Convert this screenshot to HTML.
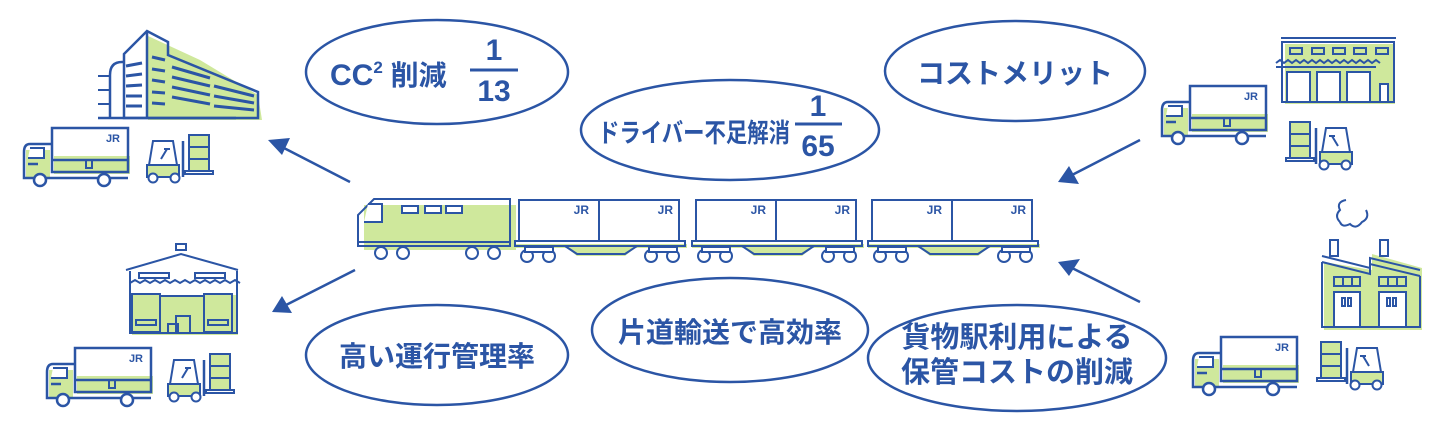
<!DOCTYPE html>
<html><head><meta charset="utf-8"><style>
html,body{margin:0;padding:0;background:#fff;}
svg{display:block;}
text{font-family:"Liberation Sans","Noto Sans CJK JP",sans-serif;font-weight:bold;fill:#2b55a5;}
</style></head><body>
<svg width="1440" height="431" viewBox="0 0 1440 431" xmlns="http://www.w3.org/2000/svg">
<defs>
<g id="truck">
  <rect x="32" y="28" width="76" height="18" fill="#cfe89c"/>
  <rect x="4" y="22" width="24" height="28" fill="#cfe89c"/>
  <rect x="30" y="0" width="76" height="44" fill="none" stroke="#2b55a5" stroke-width="2.5"/>
  <line x1="30" y1="32" x2="106" y2="32" stroke="#2b55a5" stroke-width="2.5"/>
  <rect x="64" y="32" width="6" height="8" fill="none" stroke="#2b55a5" stroke-width="2"/>
  <path d="M30 16 H8 Q2 16 2 24 V50 H30" fill="none" stroke="#2b55a5" stroke-width="2.5"/>
  <path d="M8 20 H22 V30 H6" fill="#fff" stroke="#2b55a5" stroke-width="2"/>
  <path d="M6 36 H16" stroke="#2b55a5" stroke-width="2.5"/>
  <line x1="30" y1="50" x2="106" y2="50" stroke="#2b55a5" stroke-width="2.5"/>
  <circle cx="18" cy="52" r="6" fill="#fff" stroke="#2b55a5" stroke-width="2.5"/>
  <circle cx="82" cy="52" r="6" fill="#fff" stroke="#2b55a5" stroke-width="2.5"/>
  <text x="98" y="14" font-size="11" text-anchor="end">JR</text>
</g>
<g id="fork">
  <rect x="44" y="2" width="20" height="36" fill="#cfe89c" stroke="#2b55a5" stroke-width="2"/>
  <line x1="44" y1="14" x2="64" y2="14" stroke="#2b55a5" stroke-width="2"/>
  <line x1="44" y1="26" x2="64" y2="26" stroke="#2b55a5" stroke-width="2"/>
  <rect x="40" y="38" width="28" height="3" fill="none" stroke="#2b55a5" stroke-width="2"/>
  <line x1="38" y1="8" x2="38" y2="44" stroke="#2b55a5" stroke-width="2.5"/>
  <path d="M2 32 H34 V44 H2 Z" fill="#cfe89c" stroke="#2b55a5" stroke-width="2"/>
  <path d="M4 32 L8 8 H28 L32 32" fill="none" stroke="#2b55a5" stroke-width="2"/>
  <path d="M16 26 L22 16 M19 16 H25" stroke="#2b55a5" stroke-width="2"/>
  <circle cx="8" cy="45" r="4.5" fill="#fff" stroke="#2b55a5" stroke-width="2"/>
  <circle cx="30" cy="45" r="4.5" fill="#fff" stroke="#2b55a5" stroke-width="2"/>
</g>
<g id="car">
  <polygon points="0,44 172,44 172,48 120,48 110,56 62,56 52,48 0,48" fill="#cfe89c"/>
  <rect x="4" y="0" width="160" height="41" fill="#fff" stroke="#2b55a5" stroke-width="2"/>
  <line x1="84" y1="0" x2="84" y2="41" stroke="#2b55a5" stroke-width="2"/>
  <rect x="0" y="41" width="170" height="5" fill="none" stroke="#2b55a5" stroke-width="2"/>
  <path d="M50 46 L62 54 H110 L122 46" fill="none" stroke="#2b55a5" stroke-width="2"/>
  <g fill="#fff" stroke="#2b55a5" stroke-width="2">
    <circle cx="12" cy="56" r="6"/><circle cx="34" cy="56" r="6"/>
    <circle cx="136" cy="56" r="6"/><circle cx="158" cy="56" r="6"/>
    <rect x="10" y="47" width="28" height="5"/><rect x="134" y="47" width="28" height="5"/>
  </g>
  <text x="74" y="14" font-size="12" text-anchor="end">JR</text>
  <text x="158" y="14" font-size="12" text-anchor="end">JR</text>
</g>
</defs>

<g fill="none" stroke="#2b55a5" stroke-width="2.5">
  <ellipse cx="437" cy="72" rx="131" ry="52"/>
  <ellipse cx="730" cy="130" rx="149" ry="50"/>
  <ellipse cx="1015" cy="71" rx="130" ry="50"/>
  <ellipse cx="437" cy="355" rx="131" ry="50"/>
  <ellipse cx="730" cy="330" rx="138" ry="52"/>
  <ellipse cx="1017" cy="358" rx="149" ry="53"/>
</g>
<text x="330" y="85" font-size="30">CC<tspan font-size="17" dy="-12">2</tspan><tspan dy="12" font-size="28"> 削減</tspan></text>
<text x="494" y="60" font-size="30" text-anchor="middle">1</text>
<line x1="470" y1="70" x2="518" y2="70" stroke="#2b55a5" stroke-width="3"/>
<text x="494" y="101" font-size="30" text-anchor="middle">13</text>

<text x="598" y="142" font-size="26" textLength="192" lengthAdjust="spacingAndGlyphs">ドライバー不足解消</text>
<text x="818" y="116" font-size="30" text-anchor="middle">1</text>
<line x1="795" y1="124" x2="842" y2="124" stroke="#2b55a5" stroke-width="3"/>
<text x="818" y="156" font-size="30" text-anchor="middle">65</text>

<text x="1015" y="83" font-size="28" text-anchor="middle">コストメリット</text>
<text x="437" y="366" font-size="28" text-anchor="middle">高い運行管理率</text>
<text x="730" y="342" font-size="28" text-anchor="middle">片道輸送で高効率</text>
<text x="1017" y="347" font-size="29" text-anchor="middle">貨物駅利用による</text>
<text x="1017" y="382" font-size="29" text-anchor="middle">保管コストの削減</text>

<g stroke="#2b55a5" stroke-width="2.5">
  <line x1="350" y1="182" x2="282" y2="147"/>
  <line x1="355" y1="270" x2="286" y2="305"/>
  <line x1="1140" y1="140" x2="1072" y2="175"/>
  <line x1="1140" y1="302" x2="1072" y2="268"/>
</g>
<g fill="#2b55a5">
  <polygon points="268,140 290,138 282,155"/>
  <polygon points="272,312 282,296 292,313"/>
  <polygon points="1058,182 1069,166 1079,184"/>
  <polygon points="1058,262 1080,259 1069,276"/>
</g>

<rect x="364" y="205" width="152" height="45" fill="#cfe89c"/>
<path d="M374 199 H510 V242 H358 V215 Z" fill="none" stroke="#2b55a5" stroke-width="2"/>
<path d="M368 204 H382 V222 H364" fill="#fff" stroke="#2b55a5" stroke-width="2"/>
<rect x="402" y="206" width="16" height="7" fill="#fff" stroke="#2b55a5" stroke-width="2"/>
<rect x="425" y="206" width="16" height="7" fill="#fff" stroke="#2b55a5" stroke-width="2"/>
<rect x="446" y="206" width="16" height="7" fill="#fff" stroke="#2b55a5" stroke-width="2"/>
<rect x="358" y="242" width="152" height="4" fill="none" stroke="#2b55a5" stroke-width="2"/>
<g fill="#fff" stroke="#2b55a5" stroke-width="2">
  <circle cx="381" cy="253" r="6"/><circle cx="403" cy="253" r="6"/>
  <circle cx="472" cy="253" r="6"/><circle cx="494" cy="253" r="6"/>
</g>
<use href="#car" x="515" y="200"/>
<use href="#car" x="692" y="200"/>
<use href="#car" x="868" y="200"/>

<polygon points="148,36 200,60 258,95 262,120 148,120" fill="#cfe89c"/>
<g fill="none" stroke="#2b55a5" stroke-width="2.5">
  <path d="M110 118 V75 Q110 62 122 62 H124"/>
  <path d="M124 118 V54 L147 31 L168 42 V55 L258 92 V118 Z"/>
  <line x1="147" y1="31" x2="147" y2="118"/>
  <line x1="98" y1="118" x2="236" y2="118"/>
</g>
<g stroke="#2b55a5" stroke-width="3">
  <line x1="126" y1="66" x2="142" y2="63"/><line x1="126" y1="76" x2="142" y2="74"/>
  <line x1="126" y1="86" x2="142" y2="85"/><line x1="126" y1="96" x2="142" y2="96"/>
  <line x1="126" y1="106" x2="142" y2="106"/>
  <line x1="152" y1="57" x2="165" y2="60"/><line x1="152" y1="69" x2="165" y2="71"/>
  <line x1="152" y1="80" x2="165" y2="82"/><line x1="152" y1="92" x2="165" y2="93"/>
  <line x1="152" y1="103" x2="165" y2="104"/>
  <line x1="172" y1="67" x2="210" y2="78"/><line x1="172" y1="77" x2="210" y2="86"/>
  <line x1="172" y1="87" x2="210" y2="95"/><line x1="172" y1="97" x2="210" y2="104"/>
  <line x1="214" y1="86" x2="254" y2="96"/><line x1="214" y1="96" x2="254" y2="103"/>
  <line x1="214" y1="106" x2="254" y2="110"/>
</g>
<g stroke="#2b55a5" stroke-width="2"><line x1="98" y1="76" x2="110" y2="76"/><line x1="98" y1="90" x2="110" y2="90"/><line x1="98" y1="104" x2="110" y2="104"/></g>

<use href="#truck" x="22" y="128"/>
<use href="#fork" x="145" y="133"/>

<rect x="132" y="295" width="106" height="40" fill="#cfe89c"/>
<g fill="none" stroke="#2b55a5" stroke-width="2">
  <rect x="176" y="244" width="10" height="6"/>
  <path d="M126 270 L181 254 L238 270 M130 271 V333 H237 V271"/>
  <rect x="139" y="273" width="30" height="5"/><rect x="195" y="273" width="30" height="5"/>
  <path d="M130 283 l5 -3 5 3 5 -3 5 3 5 -3 5 3 5 -3 5 3 5 -3 5 3 5 -3 5 3 5 -3 5 3 5 -3 5 3 5 -3 5 3 5 -3 5 3 5 -3 5 3"/>
  <rect x="132" y="294" width="28" height="38"/><rect x="204" y="294" width="28" height="38"/>
  <line x1="160" y1="296" x2="204" y2="296"/>
  <rect x="136" y="320" width="20" height="5"/><rect x="208" y="320" width="20" height="5"/>
  <rect x="168" y="324" width="10" height="9"/><rect x="176" y="316" width="14" height="17"/>
</g>
<use href="#truck" x="45" y="348"/>
<use href="#fork" x="166" y="352"/>

<rect x="1285" y="44" width="110" height="60" fill="#cfe89c"/>
<g fill="none" stroke="#2b55a5" stroke-width="2">
  <line x1="1281" y1="38" x2="1396" y2="38"/>
  <path d="M1282 102 V42 H1394 V102 Z"/>
  <rect x="1290" y="48" width="12" height="6"/><rect x="1312" y="48" width="12" height="6"/>
  <rect x="1333" y="48" width="12" height="6"/><rect x="1354" y="48" width="12" height="6"/>
  <rect x="1376" y="48" width="12" height="6"/>
  <path d="M1276 63 l4 -3 4 3 4 -3 4 3 4 -3 4 3 4 -3 4 3 4 -3 4 3 4 -3 4 3 4 -3 4 3 4 -3 4 3 4 -3 4 3 4 -3 4 3 4 -3 4 3 4 -3 4 3 4 -3 4 3"/>
  <line x1="1276" y1="67" x2="1376" y2="67"/>
</g>
<g fill="#fff" stroke="#2b55a5" stroke-width="2">
  <rect x="1287" y="72" width="23" height="30"/><rect x="1317" y="72" width="23" height="30"/>
  <rect x="1347" y="72" width="23" height="30"/><rect x="1380" y="84" width="8" height="18"/>
</g>
<use href="#truck" x="1160" y="86"/>
<g transform="translate(1354,120) scale(-1,1)"><use href="#fork"/></g>

<polygon points="1324,262 1372,270 1372,254 1422,268 1422,330 1324,330" fill="#cfe89c"/>
<g fill="none" stroke="#2b55a5" stroke-width="2">
  <path d="M1340 222 q-6 -6 0 -12 q-4 -8 6 -10 M1340 222 q2 6 10 2 q6 6 12 -2 q8 -4 4 -12"/>
  <rect x="1330" y="240" width="8" height="16"/><rect x="1380" y="240" width="8" height="16"/>
  <path d="M1322 256 L1370 268 V258 L1420 270"/>
  <path d="M1322 262 L1370 274 V264 L1420 276"/>
  <path d="M1322 262 V327 H1420 V276"/>
  <rect x="1334" y="277" width="26" height="9"/><rect x="1379" y="277" width="27" height="9"/>
  <line x1="1343" y1="277" x2="1343" y2="286"/><line x1="1352" y1="277" x2="1352" y2="286"/>
  <line x1="1388" y1="277" x2="1388" y2="286"/><line x1="1397" y1="277" x2="1397" y2="286"/>
</g>
<g fill="#fff" stroke="#2b55a5" stroke-width="2">
  <rect x="1334" y="292" width="26" height="35"/><rect x="1379" y="292" width="27" height="35"/>
  <rect x="1342" y="298" width="3" height="8"/><rect x="1348" y="298" width="3" height="8"/>
  <rect x="1387" y="298" width="3" height="8"/><rect x="1393" y="298" width="3" height="8"/>
</g>
<use href="#truck" x="1191" y="337"/>
<g transform="translate(1385,340) scale(-1,1)"><use href="#fork"/></g>
</svg>
</body></html>
